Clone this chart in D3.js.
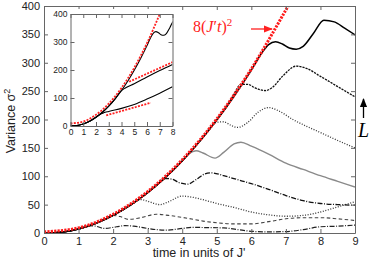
<!DOCTYPE html>
<html>
<head>
<meta charset="utf-8">
<script src="https://cdn.jsdelivr.net/npm/d3@7"></script>
<style>
  body { margin: 0; background: #fff; }
  svg { display: block; font-family: "Liberation Sans", Arial, sans-serif; }
</style>
</head>
<body>
<svg id="chart" width="374" height="261"></svg>
<script>
// black envelope that all curves share before they split off
const envelope = [[0, 0], [0.5, 1.5], [1, 7], [1.5, 17], [2, 31], [2.5, 49], [3, 71], [3.5, 97], [4, 127], [4.5, 161], [5, 199], [5.5, 241], [6, 287]];

const envUpTo = t => envelope.filter(p => p[0] <= t);

// main panel series, from largest L to smallest
const seriesSolid = envUpTo(6).concat([[6.3, 317], [6.5, 332], [6.7, 337], [6.9, 333], [7.1, 326], [7.3, 324], [7.5, 329], [7.8, 352], [8.1, 375], [8.4, 372], [8.7, 361], [9, 349]]);
const seriesDense = envUpTo(5).concat([[5.3, 224], [5.5, 245], [5.7, 262], [5.9, 262], [6.1, 256], [6.4, 251], [6.6, 256], [6.9, 276], [7.3, 294], [7.6, 290], [8, 276], [8.5, 258], [9, 240]]);
const seriesDotted = envUpTo(4.5).concat([[4.8, 185], [5.0, 195], [5.2, 196], [5.4, 190], [5.6, 186], [5.9, 195], [6.2, 213], [6.5, 221], [6.8, 215], [7.2, 200], [7.6, 188], [8, 177], [8.5, 163], [9, 150]]);
const seriesGray = envUpTo(3.5).concat([[4.0, 127], [4.2, 140], [4.4, 145], [4.6, 141], [4.95, 132], [5.2, 142], [5.5, 157], [5.7, 160], [6, 153], [6.5, 139], [7, 123], [7.5, 112], [8, 101], [8.5, 91], [9, 81]]);
const seriesDashDot = envUpTo(3).concat([[3.3, 87], [3.5, 96], [3.7, 95], [3.9, 89], [4.15, 86], [4.4, 94], [4.65, 104], [4.85, 106], [5.2, 101], [5.6, 94], [6, 87], [6.5, 77], [7, 66], [7.5, 57], [8, 52], [8.5, 50], [9, 49]]);
const seriesDotted2 = envUpTo(2.5).concat([[2.8, 59], [3.0, 56], [3.35, 50], [3.6, 55], [4.0, 65], [4.3, 63], [4.7, 57], [5, 52], [5.5, 45], [6, 37], [6.5, 32], [7, 29.5], [7.5, 31], [8, 37], [8.5, 46], [9, 55]]);
const seriesDashed = envUpTo(1.5).concat([[1.8, 27], [2.0, 31], [2.2, 29], [2.45, 24], [2.8, 27], [3.25, 33], [3.6, 31], [4.15, 26], [4.6, 21], [5, 18], [5.5, 16], [6, 16], [6.5, 20], [7, 25], [7.5, 27], [8, 27], [8.5, 25], [9, 22]]);
const seriesLowest = envUpTo(1).concat([[1.15, 10.5], [1.3, 13], [1.5, 12], [1.75, 8], [2.1, 11], [2.35, 13], [2.6, 12], [3, 8], [3.5, 5], [4, 8], [4.3, 10], [4.7, 9.5], [5.2, 9], [5.6, 6], [6, 3], [6.5, 2], [7, 2.5], [7.5, 6], [8, 11], [8.5, 12], [9, 14]]);

// red 8(J't)^2 guide
const redParabola = [[0, 2], [1, 9], [2, 33], [3, 73], [4, 129], [5, 201], [6, 289], [7, 393], [7.2, 414]];

// inset
const insetMid = envUpTo(3.5).concat([[3.9, 122], [4.3, 136], [5, 151], [6, 175], [7, 198], [8, 220]]);
const insetLow = envUpTo(2).concat([[2.3, 41], [2.6, 47], [3, 52], [4, 63], [5, 77], [6, 96], [7, 117], [8, 140]]);
const insetRedParabola = [[0, 9], [1, 16], [2, 40], [3, 80], [4, 136], [5, 208], [6, 296], [7, 400]];
const insetRedMid = [[4.6, 158], [8, 228]];
const insetRedLow = [[2.8, 38], [6.3, 83]];

const xTicks = d3.range(0, 10);
const yTicks = d3.range(0, 401, 50);
const xTicksInset = d3.range(0, 9);
const yTicksInset = d3.range(0, 401, 100);

const svg = d3.select("#chart");

const x = d3.scaleLinear().domain([0, 9]).range([44, 355]);
const y = d3.scaleLinear().domain([0, 400]).range([233, 6]);

svg.append("clipPath").attr("id", "clipMain")
    .append("rect").attr("x", 44).attr("y", 6).attr("width", 311).attr("height", 227);

const frameColor = "#666";

function drawAxes(g, xs, ys, xt, yt, fontSize, pad) {
    const [x0, x1] = xs.range();
    const [y0, y1] = ys.range();
    g.append("g").attr("transform", `translate(0,${y0})`)
        .call(d3.axisBottom(xs).tickValues(xt).tickSize(-4).tickSizeOuter(0).tickPadding(pad).tickFormat(d3.format("d")));
    g.append("g").attr("transform", `translate(0,${y1})`)
        .call(d3.axisTop(xs).tickValues(xt).tickSize(-4).tickSizeOuter(0).tickFormat(""));
    g.append("g").attr("transform", `translate(${x0},0)`)
        .call(d3.axisLeft(ys).tickValues(yt).tickSize(-4).tickSizeOuter(0).tickPadding(pad).tickFormat(d3.format("d")));
    g.append("g").attr("transform", `translate(${x1},0)`)
        .call(d3.axisRight(ys).tickValues(yt).tickSize(-4).tickSizeOuter(0).tickFormat(""));
    g.selectAll(".domain").attr("stroke", frameColor);
    g.selectAll(".tick line").attr("stroke", frameColor);
    g.selectAll(".tick text").attr("fill", "#222").style("font-size", fontSize + "px")
        .style("font-family", "'Liberation Sans', Arial, sans-serif");
}

const line = (xs, ys) => d3.line().x(d => xs(d[0])).y(d => ys(d[1])).curve(d3.curveMonotoneX);
const lm = line(x, y);

const mainLines = svg.append("g").attr("clip-path", "url(#clipMain)");

const styles = [
    [seriesLowest, "#222", 1.2, "5,1.5,1,1.5"],
    [seriesDashed, "#444", 1.1, "3.5,2.5"],
    [seriesDotted2, "#333", 1.3, "1,1.6"],
    [seriesDashDot, "#111", 1.3, "5,1.5,1,1.5"],
    [seriesGray, "#8a8a8a", 1.4, null],
    [seriesDotted, "#333", 1.3, "1,1.6"],
    [seriesDense, "#111", 1.3, "2.2,1"],
    [seriesSolid, "#000", 1.5, null]
];

styles.forEach(([data, color, w, dash]) => {
    mainLines.append("path")
        .datum(data)
        .attr("d", lm)
        .attr("fill", "none")
        .attr("stroke", color)
        .attr("stroke-width", w)
        .attr("stroke-dasharray", dash);
});

mainLines.append("path")
    .datum(redParabola)
    .attr("d", lm)
    .attr("fill", "none")
    .attr("stroke", "#ff1a1a")
    .attr("stroke-width", 3)
    .attr("stroke-dasharray", "2.2,1.2");

drawAxes(svg.append("g"), x, y, xTicks, yTicks, 11, 4);

// axis titles
svg.append("text")
    .attr("transform", `translate(15,121) rotate(-90)`)
    .attr("text-anchor", "middle")
    .style("font-size", "12.5px")
    .attr("fill", "#222")
    .html("Variance σ<tspan dy='-5' font-size='9'>2</tspan>");

svg.append("text")
    .attr("x", 199).attr("y", 257)
    .attr("text-anchor", "middle")
    .style("font-size", "12.5px")
    .attr("fill", "#222")
    .text("time in units of J'");

// annotation 8(J't)^2
svg.append("text")
    .attr("x", 193).attr("y", 32)
    .attr("fill", "#ff2020")
    .style("font-family", "'Liberation Serif', 'DejaVu Serif', serif")
    .style("font-size", "16px")
    .html("8(<tspan font-style='italic'>J</tspan>′<tspan font-style='italic'>t</tspan>)<tspan dy='-6' font-size='11'>2</tspan>");

svg.append("defs").html(
    "<marker id='arrRed' viewBox='0 0 10 10' refX='9' refY='5' markerWidth='7' markerHeight='7' orient='auto-start-reverse'><path d='M0,1 L10,5 L0,9 z' fill='#ff2020'/></marker>" +
    "<marker id='arrBlack' viewBox='0 0 10 10' refX='9' refY='5' markerWidth='7' markerHeight='7' orient='auto-start-reverse'><path d='M0,1 L10,5 L0,9 z' fill='#000'/></marker>");

svg.append("line")
    .attr("x1", 251).attr("y1", 29).attr("x2", 272).attr("y2", 29)
    .attr("stroke", "#ff2020").attr("stroke-width", 1.3)
    .attr("marker-end", "url(#arrRed)");

// L with arrow
svg.append("line")
    .attr("x1", 363.5).attr("y1", 118).attr("x2", 363.5).attr("y2", 99)
    .attr("stroke", "#000").attr("stroke-width", 1.3)
    .attr("marker-end", "url(#arrBlack)");

svg.append("text")
    .attr("x", 358).attr("y", 137)
    .style("font-family", "'Liberation Serif', 'DejaVu Serif', serif")
    .style("font-size", "20px")
    .style("font-style", "italic")
    .attr("fill", "#000")
    .text("L");

// inset
const xi = d3.scaleLinear().domain([0, 8]).range([70.5, 172.5]);
const yi = d3.scaleLinear().domain([0, 400]).range([126, 14]);

svg.append("rect")
    .attr("x", 48).attr("y", 9).attr("width", 127).attr("height", 131)
    .attr("fill", "#fff");

svg.append("clipPath").attr("id", "clipInset")
    .append("rect").attr("x", 70.5).attr("y", 14).attr("width", 102).attr("height", 112);

const inset = svg.append("g");
const insetLines = inset.append("g").attr("clip-path", "url(#clipInset)");
const li = line(xi, yi);

[seriesSolid, insetMid, insetLow].forEach(data => {
    insetLines.append("path")
        .datum(data)
        .attr("d", li)
        .attr("fill", "none")
        .attr("stroke", "#000")
        .attr("stroke-width", 1.1);
});

[insetRedParabola, insetRedMid, insetRedLow].forEach(data => {
    insetLines.append("path")
        .datum(data)
        .attr("d", li)
        .attr("fill", "none")
        .attr("stroke", "#ff2020")
        .attr("stroke-width", 1.8)
        .attr("stroke-dasharray", "2,1.3");
});

drawAxes(inset, xi, yi, xTicksInset, yTicksInset, 8.5, 3);
</script>
</body>
</html>
